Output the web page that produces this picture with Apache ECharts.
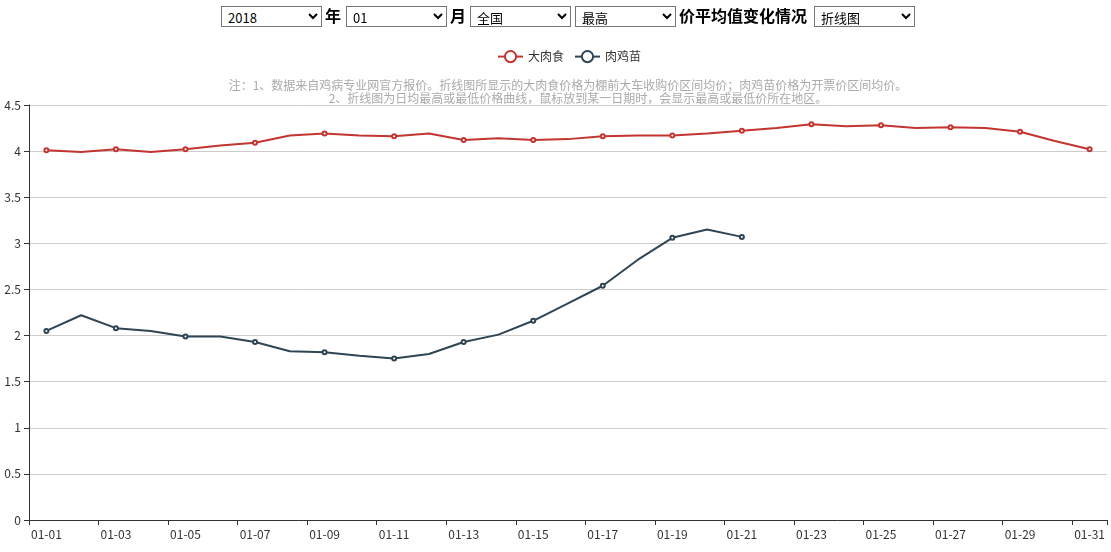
<!DOCTYPE html>
<html>
<head>
<meta charset="utf-8">
<script src="https://cdn.jsdelivr.net/npm/echarts@6/dist/echarts.min.js"></script>
<style>
  html, body { margin: 0; padding: 0; background: #fff; width: 1111px; height: 552px; overflow: hidden; }
  #chart { position: absolute; left: 0; top: 0; width: 1111px; height: 552px; }
  .ctl { position: absolute; top: 6px; height: 21px; width: 101px; box-sizing: border-box;
         border: 1px solid #767676; background: #fff; font-family: "Noto Sans CJK SC", sans-serif;
         font-size: 13px; color: #000; padding: 0 2px; border-radius: 0; z-index: 2; }
  .lbl { position: absolute; top: 5px; font-family: "Noto Sans CJK SC", sans-serif; font-weight: bold;
         font-size: 16px; line-height: 21px; color: #000; z-index: 2; }
</style>
</head>
<body>
<select class="ctl" style="left:221px"><option>2018</option></select>
<span class="lbl" style="left:325px">年</span>
<select class="ctl" style="left:346px"><option>01</option></select>
<span class="lbl" style="left:450px">月</span>
<select class="ctl" style="left:470px"><option>全国</option></select>
<select class="ctl" style="left:575px"><option>最高</option></select>
<span class="lbl" style="left:679px">价平均值变化情况</span>
<select class="ctl" style="left:814px"><option>折线图</option></select>
<div id="chart"></div>
<script>
const days = ['01-01','01-02','01-03','01-04','01-05','01-06','01-07','01-08','01-09','01-10',
  '01-11','01-12','01-13','01-14','01-15','01-16','01-17','01-18','01-19','01-20',
  '01-21','01-22','01-23','01-24','01-25','01-26','01-27','01-28','01-29','01-30','01-31'];
const seriesNames = ['大肉食', '肉鸡苗'];
const meatPrice = [4.01,3.99,4.02,3.99,4.02,4.06,4.09,4.17,4.19,4.17,4.16,4.19,4.12,4.14,4.12,4.13,
  4.16,4.17,4.17,4.19,4.22,4.25,4.29,4.27,4.28,4.25,4.26,4.25,4.21,4.11,4.02];
const chickPrice = [2.05,2.22,2.08,2.05,1.99,1.99,1.93,1.83,1.82,1.78,1.75,1.80,1.93,2.01,2.16,2.35,
  2.54,2.82,3.06,3.15,3.07,null,null,null,null,null,null,null,null,null,null];
const noteLines = [
  '注：1、数据来自鸡病专业网官方报价。折线图所显示的大肉食价格为棚前大车收购价区间均价；肉鸡苗价格为开票价区间均价。',
  '2、折线图为日均最高或最低价格曲线，鼠标放到某一日期时，会显示最高或最低价所在地区。'
];
const yTicks = { min: 0, max: 4.5, interval: 0.5 };

const FONT = '"Noto Sans CJK SC", sans-serif';
const chart = echarts.init(document.getElementById('chart'), null, { renderer: 'canvas' });
chart.setOption({
  animation: false,
  color: ['#c23531', '#2f4554'],
  textStyle: { fontFamily: FONT },
  legend: {
    data: seriesNames,
    left: 492, top: 45,
    itemWidth: 25, itemHeight: 14, itemGap: 10,
    textStyle: { color: '#333', fontSize: 12, fontFamily: FONT }
  },
  graphic: [
    { type: 'text', style: { text: noteLines[0], x: 568, y: 85, textAlign: 'center', textVerticalAlign: 'middle', fill: '#aaa', fontSize: 12, fontFamily: FONT } },
    { type: 'text', style: { text: noteLines[1], x: 578, y: 98, textAlign: 'center', textVerticalAlign: 'middle', fill: '#aaa', fontSize: 12, fontFamily: FONT } }
  ],
  grid: { left: 29, right: 4, top: 105, bottom: 32, containLabel: false },
  xAxis: {
    type: 'category', data: days, boundaryGap: true,
    axisLine: { show: true, lineStyle: { color: '#333', width: 1 } },
    axisTick: { show: true, length: 5, lineStyle: { color: '#333' } },
    axisLabel: { interval: 1, color: '#333', fontSize: 12, margin: 8, fontFamily: FONT },
    splitLine: { show: false }
  },
  yAxis: {
    type: 'value', min: yTicks.min, max: yTicks.max, interval: yTicks.interval,
    axisLine: { show: true, lineStyle: { color: '#333', width: 1 } },
    axisTick: { show: true, length: 5, lineStyle: { color: '#333' } },
    axisLabel: { color: '#333', fontSize: 12, margin: 8, fontFamily: FONT },
    splitLine: { show: true, lineStyle: { color: '#ccc', width: 1 } }
  },
  series: [
    { name: seriesNames[0], type: 'line', data: meatPrice, symbol: 'emptyCircle', symbolSize: 4,
      showAllSymbol: false, lineStyle: { width: 2 }, itemStyle: { borderWidth: 1 } },
    { name: seriesNames[1], type: 'line', data: chickPrice, symbol: 'emptyCircle', symbolSize: 4,
      showAllSymbol: false, lineStyle: { width: 2 }, itemStyle: { borderWidth: 1 } }
  ]
});
</script>
</body>
</html>
